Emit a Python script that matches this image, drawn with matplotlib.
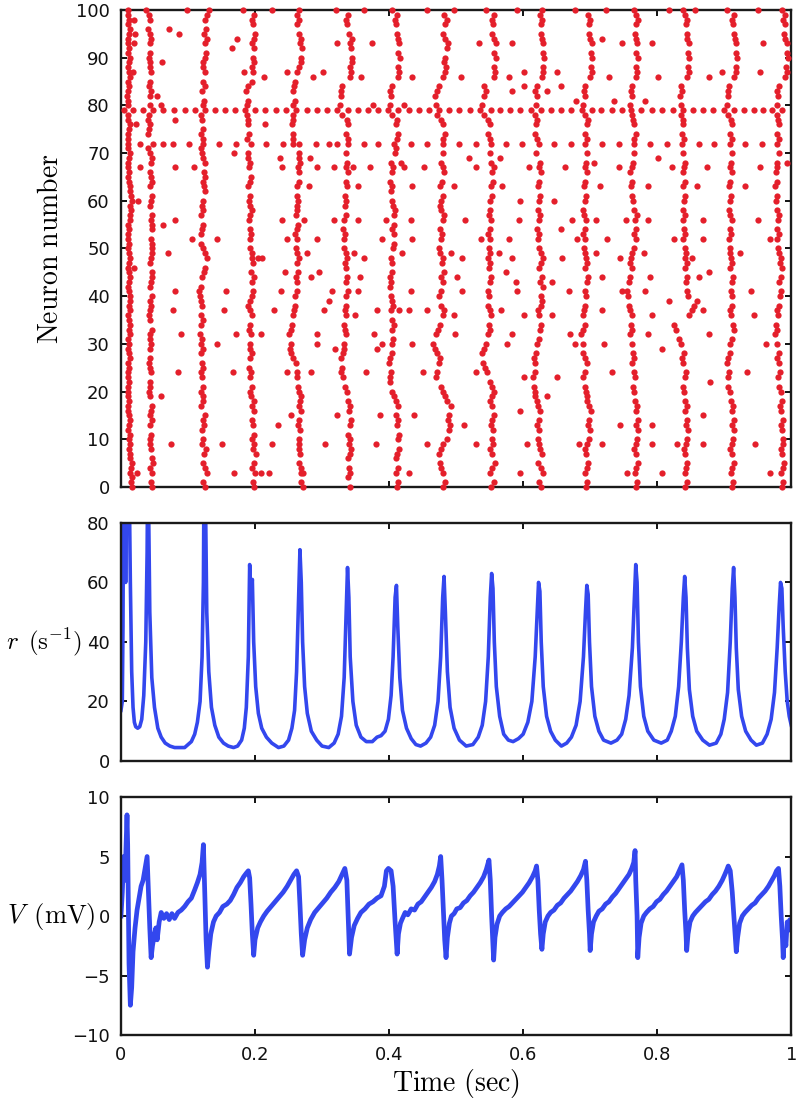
import numpy as np
import matplotlib.pyplot as plt

plt.rcParams['font.family'] = 'DejaVu Sans'
plt.rcParams['mathtext.fontset'] = 'cm'

X = None  # neuron silent in that burst

# spike time (ms) of neurons 0..99 in each population burst
burst_01 = [16, 15, 17, 14, 15, 16, 13, 14, 12, 13,
            12, 13, 11, 12, 14, 12, 11, 10, 12, 11,
            10, 11, 12, 11, 10, 12, 11, 13, 12, 11,
            12, 11, 13, 12, 14, 12, 11, 13, 12, 14,
            13, 12, 11, 12, 13, 12, 11, 12, 13, 12,
            11, 12, 10, 11, 12, 11, 13, 14, 15, 14,
            16, 15, 14, 13, 12, 11, 12, 10, 11, 12,
            13, 11, X, 10, 11, 12, 13, 11, 10, X,
            10, 11, 9, 10, 12, 11, 13, 12, 11, 12,
            13, 11, 12, 10, 11, 12, 13, 11, 12, 10]
burst_02 = [47, 45, X, 46, 44, 48, 46, X, 45, 44,
            43, 45, X, 44, 46, 43, 45, 47, X, 44,
            42, 44, 43, X, 45, 43, 42, 44, X, 43,
            45, 43, 44, 46, X, 44, 42, 43, 45, 44,
            46, X, 44, 45, 47, 46, X, 44, 45, 46,
            47, 46, 45, X, 46, 47, 45, 46, X, 44,
            45, 47, X, 44, 46, 45, 43, X, 45, 46,
            43, 41, X, X, 40, 42, 43, 41, 42, X,
            44, X, 43, 45, 42, 44, X, 45, 43, 44,
            42, 44, X, 43, 45, 43, 41, X, 43, 42]
burst_03 = [126, 123, X, 128, 125, 122, X, 124, 127, 121,
            123, X, 121, 124, 122, 125, X, 120, 123, 122,
            120, 122, X, 121, 119, 123, 121, X, 120, 122,
            119, 121, 118, X, 120, 122, 119, X, 121, 120,
            118, 116, 119, X, 121, 124, 126, X, 128, 125,
            122, 120, X, 119, 121, 123, X, 120, 122, 121,
            123, X, 125, 124, 122, 126, 124, X, 125, 123,
            121, 119, X, 122, 120, 123, X, 121, 119, X,
            122, 124, X, 121, 126, 123, X, 125, 123, 122,
            125, 127, X, 126, 128, 124, 127, X, 126, 128]
burst_04 = [199, 197, X, 200, 196, 198, X, 201, 197, 199,
            196, 198, X, 197, 195, X, 199, 196, 198, 194,
            193, 195, X, 192, 194, 191, X, 193, 195, 192,
            192, X, 194, 191, 193, X, 195, 192, 190, 193,
            195, 197, X, 196, 198, 194, X, 197, 195, 196,
            193, X, 192, 194, 193, X, 191, 193, 195, 192,
            191, 193, X, 190, 192, 194, X, 191, 193, 190,
            189, X, X, 188, 191, X, 189, 190, 188, X,
            188, 190, X, 187, 189, 195, X, 197, 196, 198,
            197, X, 199, 196, 198, 200, X, 197, 195, 198]
burst_05 = [271, 269, X, 272, 268, 266, X, 267, 265, 266,
            265, X, 267, 264, 266, X, 268, 265, 267, 269,
            266, 264, X, 262, 263, X, 261, 256, 254, 252,
            253, X, 251, 254, 255, X, 257, 258, 259, X,
            260, 262, X, 263, 261, 264, X, 263, 265, 262,
            261, X, 263, 260, 262, 264, X, 261, 263, 262,
            264, 263, X, 262, 265, X, 266, 264, 267, 265,
            266, X, X, 257, 256, X, 255, 257, 256, X,
            257, 259, X, 256, 258, 260, X, 262, 266, 268,
            269, X, 270, 267, 268, 265, X, 263, 265, 262]
burst_06 = [341, X, 339, 342, 340, X, 338, 341, 343, 340,
            342, 339, X, 341, 343, X, 340, 342, 338, X,
            337, 334, X, 331, 329, 330, X, 328, 331, 332,
            333, X, 335, 334, 332, X, 336, 334, 335, X,
            336, 338, X, 335, 337, X, 336, 334, 337, 335,
            333, X, 332, 334, 331, X, 333, 335, X, 334,
            336, 334, X, 337, 335, X, 338, 336, 337, X,
            336, X, X, 338, 336, X, 339, 337, 330, X,
            327, X, 329, 328, 330, X, 341, 343, 342, 344,
            345, X, 343, 342, 344, 340, X, 337, 336, 338]
burst_07 = [412, 414, X, 411, 413, X, 410, 412, 415, X,
            413, 415, X, 412, 414, 411, X, 413, 410, 407,
            404, X, 402, 401, 403, X, 400, 402, 404, X,
            405, 406, X, 404, 407, 405, X, 403, 406, 404,
            403, X, 401, 403, 402, 404, X, 405, 403, X,
            406, 408, X, 407, 405, 408, X, 407, 409, 406,
            405, X, 403, 404, 402, X, 404, 406, 403, X,
            409, 411, X, 412, 413, X, 411, 412, 404, X,
            401, X, 403, 402, 404, X, 413, 415, 414, X,
            416, 414, X, 415, 413, 412, X, 411, 409, 412]
burst_08 = [481, 483, X, 480, 478, 476, X, 475, 477, 480,
            486, X, 489, 491, 488, 490, X, 492, 487, 484,
            480, 478, X, 470, 472, X, 474, 476, 471, 468,
            466, X, 470, 473, 476, X, 480, 482, 478, X,
            475, 478, X, 480, 477, 482, X, 479, 481, 476,
            474, X, 477, 479, 476, X, 480, 482, 478, 476,
            478, 480, X, 476, 479, X, 482, 480, 477, X,
            480, X, X, 481, 483, X, 480, 478, 472, X,
            470, X, 468, 472, 474, X, 480, 483, 485, 482,
            484, X, 486, 488, 484, 481, X, 483, 486, 482]
burst_09 = [552, 556, X, 550, 554, 558, X, 553, 551, 555,
            553, X, 555, 552, 554, 556, X, 553, 551, 554,
            556, 553, 550, X, 546, 543, 540, X, 538, 542,
            545, X, 548, 551, 549, X, 552, 550, 548, X,
            549, 547, X, 550, 552, X, 549, 551, 548, 550,
            549, X, 551, 548, 550, X, 552, 549, 551, X,
            551, 553, X, 552, 555, X, 553, 556, 552, X,
            550, X, X, 551, 548, X, 550, 547, 542, X,
            539, X, 542, 544, 541, X, 556, 558, 557, X,
            559, 557, X, 560, 556, 554, X, 555, 553, 556]
burst_10 = [627, 624, X, 630, 626, 622, X, 628, 625, 623,
            622, X, 624, 621, 623, X, 625, 622, 620, 618,
            617, 616, X, 615, 617, X, 618, 616, 619, X,
            620, 623, X, 625, 627, X, 624, 622, 626, 628,
            627, X, 630, 625, 628, X, 624, 627, 630, 626,
            623, X, 622, 624, 621, X, 623, 625, 622, X,
            623, 625, X, 622, 624, X, 626, 623, 625, X,
            619, X, X, 620, 617, X, 619, 621, 618, X,
            619, X, 620, 618, 621, X, 628, 630, 629, X,
            631, 629, X, 630, 628, 627, X, 626, 628, 625]
burst_11 = [694, 696, X, 692, 695, 697, X, 694, 693, 696,
            698, X, 700, 697, 699, X, 701, 698, 696, 695,
            694, 692, X, 690, 693, X, 695, 692, 690, X,
            689, X, 687, 690, 692, X, 689, 691, 693, X,
            694, 692, X, 695, 697, X, 693, 696, 694, 692,
            691, X, 693, 690, 692, X, 694, 691, 690, X,
            692, 694, X, 691, 693, X, 695, 692, 694, X,
            695, X, X, 696, 693, X, 695, 697, 692, X,
            690, X, 692, 691, 693, X, 700, 702, 701, X,
            703, 701, X, 702, 700, 699, X, 698, 700, 697]
burst_12 = [768, 770, X, 767, 769, 771, X, 768, 766, 769,
            770, X, 772, 769, 771, X, 768, 770, 767, X,
            766, 764, X, 767, 765, X, 763, 766, 764, X,
            762, X, 760, 763, 761, X, 762, 760, 758, X,
            757, 755, X, 758, 760, X, 762, 759, 761, 763,
            765, X, 768, 766, 769, X, 767, 770, 766, X,
            764, 762, X, 761, 763, X, 760, 762, 764, X,
            766, X, X, 765, 768, X, 766, 764, 762, X,
            760, X, 762, 761, 763, X, 768, 770, 769, X,
            771, 769, X, 770, 768, 767, X, 769, 771, 768]
burst_13 = [842, 844, X, 841, 843, 845, X, 842, 840, 843,
            844, X, 846, 843, 845, X, 842, 844, 841, X,
            840, 838, X, 841, 843, X, 839, 837, 840, X,
            836, 832, X, 828, 825, X, 848, 852, 855, X,
            846, 844, X, 843, 845, X, 842, 844, 841, 843,
            841, X, 839, 842, 840, X, 838, 841, 839, X,
            840, 842, X, 839, 841, X, 838, 840, 842, X,
            839, X, X, 840, 837, X, 839, 838, 836, X,
            836, X, 834, 837, 835, X, 845, 847, 846, X,
            848, 846, X, 847, 845, 844, X, 843, 845, 842]
burst_14 = [911, 913, X, 910, 912, 914, X, 911, 909, 912,
            913, X, 915, 912, 914, X, 911, 913, 910, X,
            908, 906, X, 905, 907, X, 904, 906, 908, X,
            909, 912, X, 915, 913, X, 910, 908, 911, X,
            912, 910, X, 911, 913, X, 909, 912, 910, 908,
            909, X, 907, 910, 908, X, 911, 909, 907, X,
            908, 910, X, 907, 909, X, 911, 908, 910, X,
            911, X, X, 912, 909, X, 911, 910, 906, X,
            904, X, 906, 905, 907, X, 915, 918, 917, X,
            919, 917, X, 918, 916, 914, X, 913, 911, 914]
burst_15 = [986, 988, X, 985, 987, 989, X, 986, 984, 987,
            988, X, 986, 984, 987, X, 985, 983, 986, X,
            984, 982, X, 980, 983, X, 981, 979, 982, X,
            978, X, 976, 979, 977, X, 980, 978, 981, X,
            983, 985, X, 982, 984, X, 986, 983, 985, 982,
            980, X, 979, 981, 978, X, 980, 982, 979, X,
            977, 978, X, 976, 979, X, 977, 979, 978, X,
            981, X, X, 982, 979, X, 981, 980, 978, X,
            978, X, 980, 979, 981, X, 990, 993, 992, X,
            995, 993, X, 994, 991, 989, X, 990, 988, 991]
bursts = [burst_01, burst_02, burst_03, burst_04, burst_05, burst_06, burst_07, burst_08,
          burst_09, burst_10, burst_11, burst_12, burst_13, burst_14, burst_15]

# neurons that fire tonically (ms)
neuron_72 = [10, 28, 48, 62, 77, 102, 122, 147, 172, 194, 216, 241, 256, 266, 291, 310, 323,
             338, 362, 383, 407, 432, 457, 480, 504, 529, 552, 574, 599, 624, 646, 671, 693,
             718, 743, 765, 790, 814, 837, 862, 885, 909, 931, 956, 978]
neuron_79 = [5, 18, 33, 48, 63, 79, 95, 110, 125, 140, 155, 170, 185, 200, 215, 231, 246, 261,
             277, 292, 308, 323, 338, 353, 368, 383, 399, 414, 429, 445, 459, 475, 490, 505,
             520, 535, 552, 566, 581, 596, 611, 626, 641, 656, 671, 688, 702, 716, 732, 747,
             761, 776, 792, 807, 823, 838, 853, 868, 884, 899, 914, 929, 944, 958, 971, 986]
neuron_100 = [10, 38, 98, 132, 182, 226, 266, 321, 363, 405, 457, 497, 544, 591, 628, 678,
              723, 765, 817, 839, 857, 904, 951, 986]

# isolated spikes between bursts: (ms, neuron)
stray_spikes = [
    (19, 98), (21, 95), (20, 93), (18, 87), (23, 76), (26, 60), (20, 46), (24, 3), (29, 67),
    (72, 96), (86, 95), (61, 89), (54, 82), (60, 80), (80, 77), (80, 67), (109, 67), (80, 56),
    (62, 55), (106, 52), (144, 52), (70, 49), (210, 48), (80, 41), (157, 41), (77, 37),
    (153, 37), (90, 32), (144, 30), (172, 32), (209, 32), (85, 24), (167, 24), (60, 19),
    (74, 9), (151, 9), (169, 3), (209, 3), (173, 94), (166, 92), (183, 87), (214, 86),
    (215, 76), (204, 48), (169, 70),
    (375, 93), (323, 93), (247, 87), (286, 86), (301, 87), (434, 86), (376, 80), (423, 80),
    (237, 69), (240, 67), (282, 69), (292, 67), (318, 67), (371, 67), (423, 67), (434, 63),
    (281, 63), (240, 56), (273, 56), (318, 56), (353, 56), (433, 56), (247, 52), (292, 52),
    (434, 52), (278, 49), (363, 48), (348, 49), (244, 45), (296, 45), (283, 44), (239, 41),
    (315, 41), (353, 41), (432, 41), (229, 37), (303, 37), (311, 39), (349, 36), (382, 37),
    (429, 37), (293, 32), (292, 30), (320, 29), (377, 32), (382, 29), (390, 30), (434, 30),
    (247, 24), (365, 24), (283, 24), (253, 15), (323, 15), (387, 15), (437, 15), (234, 13),
    (226, 9), (305, 9), (380, 9), (221, 3), (268, 3), (358, 86), (395, 56), (390, 52),
    (418, 68), (346, 67), (353, 63), (420, 49), (356, 44), (415, 37), (430, 3),
    (534, 93), (584, 93), (507, 86), (579, 86), (601, 87), (651, 87), (584, 83), (601, 84),
    (636, 83), (656, 84), (452, 67), (519, 69), (529, 67), (566, 69), (609, 67), (663, 67),
    (497, 63), (569, 63), (596, 60), (646, 60), (514, 56), (594, 56), (656, 54), (673, 56),
    (537, 52), (579, 52), (492, 49), (509, 48), (564, 49), (584, 48), (658, 48), (502, 44),
    (574, 45), (589, 43), (643, 43), (668, 41), (509, 41), (591, 41), (497, 36), (457, 37),
    (567, 37), (601, 36), (643, 36), (499, 32), (576, 30), (584, 32), (670, 32), (450, 24),
    (529, 24), (601, 23), (651, 23), (512, 13), (596, 16), (636, 19), (457, 9), (529, 9),
    (606, 9), (596, 3),
    (718, 94), (747, 93), (792, 93), (958, 93), (728, 86), (801, 86), (877, 86), (896, 87),
    (953, 87), (679, 81), (735, 81), (782, 81), (705, 68), (743, 67), (801, 69), (822, 67),
    (874, 67), (953, 67), (993, 68), (715, 63), (787, 63), (859, 63), (931, 63), (708, 56),
    (753, 56), (787, 56), (869, 56), (951, 56), (681, 52), (725, 52), (825, 52), (869, 52),
    (968, 52), (708, 49), (745, 48), (780, 49), (852, 48), (924, 49), (718, 44), (790, 44),
    (862, 44), (877, 45), (747, 41), (782, 41), (817, 39), (859, 39), (940, 41), (718, 37),
    (792, 36), (869, 37), (944, 36), (678, 30), (720, 30), (787, 32), (807, 29), (877, 32),
    (963, 30), (733, 24), (879, 22), (934, 24), (745, 13), (792, 13), (869, 15), (683, 9),
    (718, 9), (792, 9), (829, 9), (869, 9), (946, 9), (755, 3), (807, 3), (968, 3)]

# population rate r (1/s)
rate_t = [0.000, 0.002, 0.003, 0.004, 0.006, 0.007, 0.008, 0.010, 0.012, 0.014, 0.016, 0.018,
          0.020, 0.022, 0.025, 0.028, 0.031, 0.034, 0.037, 0.039, 0.040, 0.041, 0.043, 0.046,
          0.050, 0.055, 0.060, 0.066, 0.073, 0.080, 0.088, 0.095, 0.100, 0.105, 0.110, 0.114,
          0.118, 0.121, 0.123, 0.124, 0.126, 0.128, 0.131, 0.135, 0.140, 0.146, 0.153, 0.160,
          0.168, 0.174, 0.180, 0.184, 0.187, 0.190, 0.192, 0.194, 0.196, 0.198, 0.201, 0.205,
          0.210, 0.217, 0.225, 0.235, 0.243, 0.250, 0.255, 0.259, 0.262, 0.265, 0.267, 0.269,
          0.271, 0.274, 0.278, 0.284, 0.292, 0.300, 0.310, 0.318, 0.324, 0.329, 0.333, 0.336,
          0.338, 0.340, 0.342, 0.346, 0.351, 0.358, 0.366, 0.375, 0.382, 0.388, 0.394, 0.399,
          0.403, 0.406, 0.409, 0.411, 0.413, 0.416, 0.420, 0.426, 0.433, 0.440, 0.447, 0.455,
          0.462, 0.468, 0.473, 0.477, 0.480, 0.482, 0.484, 0.487, 0.491, 0.497, 0.505, 0.515,
          0.525, 0.533, 0.539, 0.544, 0.548, 0.551, 0.553, 0.555, 0.557, 0.560, 0.565, 0.571,
          0.578, 0.585, 0.593, 0.600, 0.607, 0.613, 0.618, 0.621, 0.623, 0.625, 0.627, 0.630,
          0.635, 0.641, 0.648, 0.657, 0.665, 0.672, 0.679, 0.685, 0.690, 0.693, 0.695, 0.697,
          0.699, 0.702, 0.707, 0.713, 0.720, 0.731, 0.740, 0.747, 0.753, 0.758, 0.763, 0.766,
          0.768, 0.770, 0.772, 0.775, 0.780, 0.786, 0.795, 0.806, 0.815, 0.821, 0.827, 0.832,
          0.836, 0.839, 0.841, 0.843, 0.845, 0.848, 0.853, 0.859, 0.868, 0.878, 0.888, 0.895,
          0.900, 0.905, 0.909, 0.912, 0.914, 0.916, 0.918, 0.921, 0.926, 0.932, 0.940, 0.948,
          0.957, 0.964, 0.970, 0.975, 0.979, 0.982, 0.984, 0.986, 0.988, 0.991, 0.994, 0.997,
          1.000]
rate_hz = [17, 20, 45, 100, 90, 60, 85, 100, 100, 60, 30, 18,
           13, 11.5, 11, 11.5, 14, 22, 40, 70, 100, 90, 50, 28,
           18, 11, 8, 6, 5, 4.5, 4.5, 4.5, 5.5, 6.5, 9, 13,
           20, 35, 60, 100, 90, 50, 30, 18, 12, 8, 6, 5,
           4.5, 5, 7, 11, 18, 35, 66, 55, 61, 40, 25, 16,
           11, 8, 6, 4.5, 5, 7, 11, 17, 30, 55, 71, 60,
           40, 25, 16, 10, 7, 5, 4.5, 6, 9, 15, 28, 50,
           65, 55, 35, 20, 12, 8, 6.5, 6.5, 8, 8.5, 10, 14,
           22, 35, 55, 59, 45, 28, 17, 11, 7.5, 5.5, 5, 6,
           8, 12, 20, 35, 55, 62, 50, 30, 18, 11, 7, 5,
           5.5, 8, 12, 20, 35, 55, 63, 58, 40, 25, 15, 9,
           7, 6.5, 7.5, 9, 13, 20, 35, 50, 60, 57, 40, 25,
           15, 10, 7, 5, 6, 8, 12, 20, 35, 50, 59, 56,
           40, 25, 15, 10, 7, 6, 7, 9, 14, 22, 38, 55,
           66, 60, 40, 25, 15, 10, 7, 6, 7, 10, 15, 25,
           40, 55, 62, 55, 38, 24, 15, 10, 7, 5.3, 6, 9,
           14, 23, 40, 58, 65, 55, 38, 24, 15, 10, 7, 5.3,
           6, 9, 14, 23, 38, 52, 60, 58, 45, 30, 20, 15,
           12]

# mean membrane potential V (mV)
v_t = [0.000, 0.002, 0.004, 0.006, 0.008, 0.009, 0.010, 0.012, 0.014, 0.016, 0.018, 0.021,
       0.024, 0.027, 0.030, 0.033, 0.036, 0.039, 0.041, 0.043, 0.045, 0.047, 0.050, 0.052,
       0.054, 0.057, 0.060, 0.064, 0.068, 0.072, 0.076, 0.080, 0.085, 0.090, 0.095, 0.100,
       0.105, 0.110, 0.114, 0.118, 0.121, 0.123, 0.125, 0.127, 0.129, 0.131, 0.134, 0.138,
       0.142, 0.147, 0.152, 0.158, 0.163, 0.168, 0.173, 0.178, 0.183, 0.187, 0.190, 0.192,
       0.194, 0.196, 0.198, 0.200, 0.204, 0.208, 0.213, 0.218, 0.224, 0.230, 0.236, 0.242,
       0.248, 0.253, 0.258, 0.262, 0.265, 0.267, 0.269, 0.271, 0.274, 0.278, 0.283, 0.289,
       0.295, 0.301, 0.307, 0.313, 0.319, 0.325, 0.330, 0.334, 0.337, 0.339, 0.341, 0.344,
       0.348, 0.353, 0.358, 0.364, 0.370, 0.376, 0.382, 0.388, 0.393, 0.396, 0.399, 0.403,
       0.406, 0.409, 0.412, 0.414, 0.417, 0.420, 0.424, 0.428, 0.433, 0.438, 0.443, 0.448,
       0.453, 0.458, 0.463, 0.468, 0.472, 0.475, 0.477, 0.479, 0.481, 0.483, 0.485, 0.487,
       0.490, 0.493, 0.497, 0.501, 0.506, 0.511, 0.516, 0.521, 0.526, 0.531, 0.536, 0.541,
       0.545, 0.549, 0.551, 0.553, 0.555, 0.556, 0.558, 0.561, 0.565, 0.569, 0.574, 0.579,
       0.584, 0.589, 0.594, 0.599, 0.604, 0.609, 0.614, 0.618, 0.620, 0.622, 0.624, 0.626,
       0.628, 0.630, 0.633, 0.637, 0.641, 0.646, 0.651, 0.656, 0.661, 0.666, 0.671, 0.676,
       0.681, 0.686, 0.690, 0.693, 0.695, 0.697, 0.699, 0.700, 0.702, 0.705, 0.709, 0.713,
       0.718, 0.723, 0.728, 0.733, 0.738, 0.743, 0.748, 0.753, 0.758, 0.762, 0.765, 0.767,
       0.768, 0.770, 0.771, 0.773, 0.776, 0.780, 0.784, 0.789, 0.794, 0.799, 0.804, 0.809,
       0.814, 0.819, 0.824, 0.829, 0.833, 0.837, 0.839, 0.841, 0.843, 0.844, 0.846, 0.849,
       0.853, 0.857, 0.862, 0.867, 0.872, 0.877, 0.882, 0.887, 0.892, 0.897, 0.901, 0.904,
       0.906, 0.909, 0.912, 0.915, 0.918, 0.920, 0.923, 0.927, 0.931, 0.936, 0.941, 0.946,
       0.951, 0.956, 0.961, 0.966, 0.971, 0.975, 0.978, 0.981, 0.983, 0.985, 0.987, 0.988,
       0.990, 0.992, 0.994, 0.996, 0.998, 1.000]
v_mv = [0.0, 2.0, 5.0, 3.0, 6.5, 8.5, 6.0, -4.0, -7.5, -6.0, -3.0, -1.0,
        0.5, 1.5, 2.5, 3.0, 4.0, 5.0, 2.0, -1.0, -3.5, -2.5, -1.5, -1.0,
        -2.0, -0.5, 0.3, -0.2, 0.2, -0.3, 0.2, -0.2, 0.3, 0.5, 0.8, 1.2,
        1.5, 2.2, 2.8, 3.5, 4.5, 6.0, 2.0, -2.0, -4.3, -3.0, -1.5, -0.5,
        0.0, 0.3, 0.8, 1.0, 1.3, 1.8, 2.4, 2.8, 3.3, 3.6, 3.8, 3.2,
        1.0, -1.5, -3.3, -2.0, -1.0, -0.5, 0.0, 0.4, 0.8, 1.2, 1.6, 2.0,
        2.5, 3.0, 3.5, 3.8, 3.3, 1.0, -1.5, -3.3, -2.0, -1.0, -0.3, 0.3,
        0.7, 1.1, 1.5, 2.0, 2.4, 2.9, 3.5, 4.0, 3.0, 0.0, -3.2, -1.8,
        -0.8, -0.2, 0.3, 0.6, 1.0, 1.2, 1.5, 1.7, 2.5, 3.8, 4.0, 3.8,
        2.5, -0.5, -3.2, -1.5, -0.6, -0.2, 0.3, 0.1, 0.6, 0.5, 1.0, 1.2,
        1.6, 2.0, 2.4, 2.9, 3.5, 4.2, 5.0, 3.0, 0.5, -2.0, -3.5, -1.8,
        -0.6, 0.0, 0.2, 0.6, 0.7, 1.1, 1.3, 1.7, 2.0, 2.4, 2.8, 3.3,
        3.9, 4.7, 3.0, 0.0, -2.5, -3.7, -1.8, -0.7, 0.0, 0.3, 0.6, 0.8,
        1.1, 1.4, 1.7, 2.0, 2.4, 2.8, 3.3, 3.8, 4.2, 3.0, 0.5, -1.5,
        -2.8, -1.5, -0.5, 0.0, 0.3, 0.5, 0.9, 1.1, 1.5, 1.8, 2.1, 2.5,
        2.9, 3.4, 3.9, 4.6, 3.0, 0.5, -1.5, -2.9, -1.5, -0.5, 0.0, 0.4,
        0.6, 1.0, 1.2, 1.6, 1.9, 2.3, 2.7, 3.1, 3.5, 4.0, 4.5, 5.5,
        3.0, 0.0, -3.5, -1.8, -0.6, 0.0, 0.3, 0.6, 0.8, 1.2, 1.4, 1.8,
        2.1, 2.5, 2.9, 3.3, 3.8, 4.3, 3.0, 0.5, -1.5, -2.9, -1.5, -0.5,
        0.0, 0.3, 0.6, 0.9, 1.2, 1.4, 1.8, 2.1, 2.5, 3.0, 3.5, 3.9,
        4.2, 3.8, 2.0, -0.5, -3.0, -1.8, -0.6, 0.0, 0.3, 0.6, 0.9, 1.1,
        1.5, 1.8, 2.1, 2.5, 3.0, 3.4, 3.8, 4.0, 2.5, 0.0, -2.0, -3.5,
        -1.5, -2.5, -0.5, -1.2, -0.3, -0.5]

red = '#e41f2b'
blue = '#3347ee'

spk_t, spk_n = [], []
for b in bursts:
    for n, t in enumerate(b):
        if t is not None:
            spk_t.append(t)
            spk_n.append(n)
for n, train in ((72, neuron_72), (79, neuron_79), (100, neuron_100)):
    spk_t += train
    spk_n += [n] * len(train)
for t, n in stray_spikes:
    spk_t.append(t)
    spk_n.append(n)
spk_t = np.array(spk_t) / 1000.0

fig = plt.figure(figsize=(7.99, 10.99), dpi=100)
ax1 = fig.add_axes([0.1514, 0.5569, 0.8389, 0.4340])
ax2 = fig.add_axes([0.1514, 0.3076, 0.8389, 0.2166])
ax3 = fig.add_axes([0.1514, 0.0582, 0.8389, 0.2166])

ax1.plot(spk_t, spk_n, 'o', ms=4.5, color=red, mec='none', clip_on=False, zorder=3)
ax2.plot(rate_t, rate_hz, color=blue, lw=2.6)
ax3.plot(v_t, v_mv, color=blue, lw=3.4)

xticks = [0, 0.2, 0.4, 0.6, 0.8, 1.0]
for ax in (ax1, ax2, ax3):
    ax.set_xlim(0, 1)
    ax.set_xticks(xticks)
    ax.tick_params(direction='in', top=True, right=True, length=4, width=1.4,
                   labelsize=13, pad=8, colors='#111111')
    for s in ax.spines.values():
        s.set_linewidth(1.7)
        s.set_color('#1a1a1a')

ax1.set_ylim(0, 100)
ax1.set_yticks(range(0, 101, 10))
ax1.tick_params(labelbottom=False)
ax1.set_ylabel(r'$\mathrm{Neuron\ number}$', fontsize=20)
ax1.yaxis.set_label_coords(-0.085, 0.5)

ax2.set_ylim(0, 80)
ax2.set_yticks([0, 20, 40, 60, 80])
ax2.tick_params(labelbottom=False)
ax2.set_ylabel(r'$r\ \,(\mathrm{s}^{-1})$', fontsize=18, rotation=0, ha='right', va='center')
ax2.yaxis.set_label_coords(-0.058, 0.5)

ax3.set_ylim(-10, 10)
ax3.set_yticks([-10, -5, 0, 5, 10])
ax3.set_xticklabels(['0', '0.2', '0.4', '0.6', '0.8', '1'])
ax3.set_ylabel(r'$V\ \,(\mathrm{mV})$', fontsize=19, rotation=0, ha='right', va='center')
ax3.yaxis.set_label_coords(-0.038, 0.5)
ax3.set_xlabel(r'$\mathrm{Time\ (sec)}$', fontsize=20, labelpad=2)

fig.savefig('out.png', dpi=100)
